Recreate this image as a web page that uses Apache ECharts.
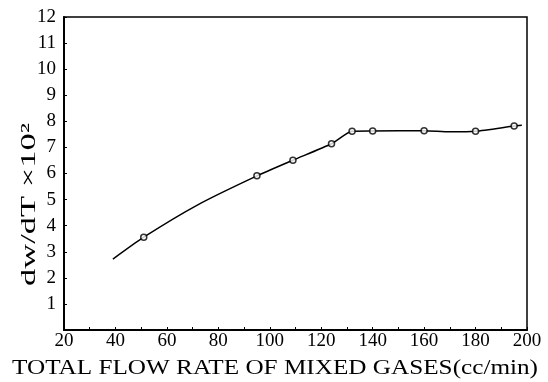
<!DOCTYPE html>
<html>
<head>
<meta charset="utf-8">
<script src="https://cdn.jsdelivr.net/npm/echarts@6/dist/echarts.min.js"></script>
<style>
	html, body { margin: 0; padding: 0; background: #fff; }
	#chart { width: 548px; height: 382px; }
</style>
</head>
<body>
<div id="chart"></div>
<script type="text/javascript">
	// measured points (open circles)
	var flowRate = [51, 95, 109, 124, 132, 140, 160, 180, 195];
	var rate = [3.56, 5.91, 6.51, 7.14, 7.62, 7.63, 7.64, 7.62, 7.82];
	// the drawn curve
	var curveX = [39, 51, 72, 95, 109, 124, 132, 140, 160, 170, 180, 195, 198];
	var curveY = [2.72, 3.56, 4.8, 5.91, 6.51, 7.14, 7.62, 7.63, 7.64, 7.6, 7.62, 7.82, 7.85];

	var xTitle = 'TOTAL FLOW RATE OF MIXED GASES(cc/min)';
	var yTitle = 'dw/dT \u00d710\u00b2';

	var font = '"Liberation Serif", "DejaVu Serif", serif';

	// the original lettering is widely spaced, stretch the titles to its length
	var ctx = document.createElement('canvas').getContext('2d');
	function stretch(text, size, target) {
		ctx.font = size + 'px ' + font;
		return target / ctx.measureText(text).width;
	}

	var chart = echarts.init(document.getElementById('chart'));
	var option = {
		animation: false,
		backgroundColor: '#fff',
		grid: {
			left: 64, right: 21, top: 17, bottom: 52,
			show: true, borderColor: '#000', borderWidth: 1.5
		},
		xAxis: {
			type: 'value', min: 20, max: 200, interval: 20,
			axisLine: { lineStyle: { color: '#000', width: 2 } },
			axisTick: { inside: true, length: 3, lineStyle: { color: '#000' } },
			minorTick: { show: true, splitNumber: 2, length: 3, lineStyle: { color: '#000' } },
			splitLine: { show: false },
			axisLabel: { color: '#000', fontFamily: font, fontSize: 19, margin: 2 }
		},
		yAxis: {
			type: 'value', min: 0, max: 12, interval: 1,
			axisLine: { show: true, lineStyle: { color: '#000', width: 2 } },
			axisTick: { show: true, inside: true, length: 3, lineStyle: { color: '#000' } },
			splitLine: { show: false },
			axisLabel: {
				color: '#000', fontFamily: font, fontSize: 19, margin: 8,
				formatter: function (v) { return v === 0 ? '' : v; }
			}
		},
		graphic: [
			{
				type: 'text', x: 12, y: 358,
				scaleX: stretch(xTitle, 21, 526),
				style: {
					text: xTitle, font: '21px ' + font, fill: '#000',
					verticalAlign: 'top'
				}
			},
			{
				type: 'text', x: 18, y: 286, rotation: Math.PI / 2,
				scaleX: stretch(yTitle, 22, 163),
				style: {
					text: yTitle, font: '22px ' + font, fill: '#000',
					verticalAlign: 'top'
				}
			}
		],
		series: [
			{
				type: 'line', smooth: 0.2, showSymbol: false, silent: true,
				data: curveX.map(function (x, i) { return [x, curveY[i]]; }),
				lineStyle: { color: '#000', width: 1.5 }
			},
			{
				type: 'scatter', symbol: 'circle', symbolSize: 6,
				data: flowRate.map(function (x, i) { return [x, rate[i]]; }),
				itemStyle: { color: '#fff', borderColor: '#000', borderWidth: 1.5 },
				z: 3
			}
		]
	};
	chart.setOption(option);
</script>
</body>
</html>
